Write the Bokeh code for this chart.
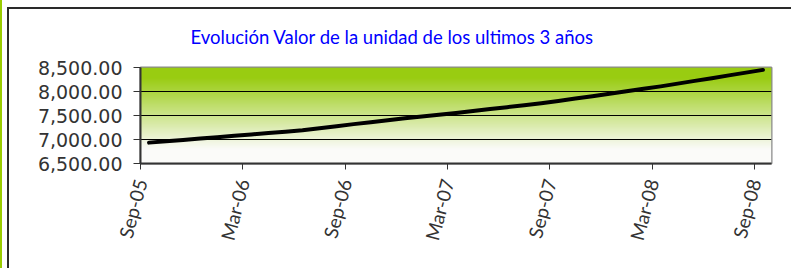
import numpy as np
from bokeh.plotting import figure
from bokeh.models import FixedTicker, NumeralTickFormatter, Title
from bokeh.embed import file_html
from bokeh.resources import INLINE

# ---- data ----
title_text = "Evolución Valor de la unidad de los ultimos 3 años"
x_labels = ["Sep-05", "Mar-06", "Sep-06", "Mar-07", "Sep-07", "Mar-08", "Sep-08"]
label_month_idx = [0, 6, 12, 18, 24, 30, 36]
values = [6935, 6964, 6992, 7021, 7049, 7078, 7106, 7135, 7163, 7192,
          7234, 7276, 7320, 7361, 7403, 7443, 7479, 7515, 7552, 7593,
          7634, 7674, 7715, 7756, 7801, 7852, 7903, 7954, 8005, 8056,
          8107, 8164, 8221, 8278, 8336, 8393, 8450]
y_ticks = [6500, 7000, 7500, 8000, 8500]

months = list(range(len(values)))
x0, x1 = -0.5, len(values) - 0.5
y0, y1 = y_ticks[0], y_ticks[-1]

W, H = 791, 268
B_LEFT, B_RIGHT, B_TOP, B_BOTTOM = 140, 20, 67, 105

p = figure(width=W, height=H, output_backend="svg", toolbar_location=None,
           x_range=(x0, x1), y_range=(y0, y1),
           min_border_left=B_LEFT, min_border_right=B_RIGHT,
           min_border_top=B_TOP, min_border_bottom=B_BOTTOM)
p.border_fill_color = None
p.styles = {
    "background": ("linear-gradient(#2a2a2a,#2a2a2a) 7px 7px / 2px 100% no-repeat, "
                   "linear-gradient(#2a2a2a,#2a2a2a) 7px 7px / 100% 2px no-repeat, "
                   "linear-gradient(#99cc00,#99cc00) 0px 0px / 2px 100% no-repeat, white"),
}

# gradient background of plot area
n = 200
t = np.linspace(1, 0, n)  # row 0 = bottom (white), last row = top (green)
f = np.clip((t - 0.1) / 0.75, 0, 1)
top_c = np.array([0x99, 0xCC, 0x11])
bot_c = np.array([0xFB, 0xFB, 0xF9])
cols = top_c[None, :] + (bot_c - top_c)[None, :] * f[:, None]
img = np.zeros((n, 1), dtype=np.uint32)
view = img.view(dtype=np.uint8).reshape((n, 1, 4))
view[:, 0, 0] = cols[:, 0]
view[:, 0, 1] = cols[:, 1]
view[:, 0, 2] = cols[:, 2]
view[:, 0, 3] = 255
r_img = p.image_rgba(image=[img], x=x0, y=y0, dw=x1 - x0, dh=y1 - y0)
r_img.level = "image"

p.line(months, values, line_color="black", line_width=4, line_cap="round", line_join="round")

p.outline_line_color = "#8a8a8a"
p.outline_line_width = 2

p.xgrid.visible = False
p.ygrid.ticker = FixedTicker(ticks=y_ticks[1:-1])
p.ygrid.grid_line_color = "black"
p.ygrid.grid_line_width = 1

# axes
p.yaxis.ticker = FixedTicker(ticks=y_ticks)
p.yaxis.formatter = NumeralTickFormatter(format="0,0.00")
p.yaxis.major_label_text_font = "DejaVu Sans"
p.yaxis.major_label_text_font_size = "19px"
p.yaxis.major_label_text_color = "#333333"
p.yaxis.major_label_standoff = 11
p.yaxis.major_tick_out = 7

p.xaxis.ticker = FixedTicker(ticks=[i - 0.5 for i in label_month_idx])
p.xaxis.major_label_overrides = {i - 0.5: lab for i, lab in zip(label_month_idx, x_labels)}
p.xaxis.major_label_orientation = np.deg2rad(75)
p.xaxis.major_label_text_font = "Lato"
p.xaxis.major_label_text_font_size = "19px"
p.xaxis.major_label_text_color = "#333333"
p.xaxis.major_label_standoff = 10
p.xaxis.major_tick_out = 6

for ax in (p.xaxis[0], p.yaxis[0]):
    ax.axis_line_color = "#333333"
    ax.axis_line_width = 2
    ax.major_tick_line_color = "#333333"
    ax.major_tick_in = 0
    ax.minor_tick_line_color = None

p.add_layout(Title(text=title_text, align="left", offset=50, standoff=39,
                   text_font="Lato", text_font_size="18.5px", text_font_style="normal",
                   text_color="#0000ff"), "above")

open("out.html", "w").write(file_html(p, INLINE))
